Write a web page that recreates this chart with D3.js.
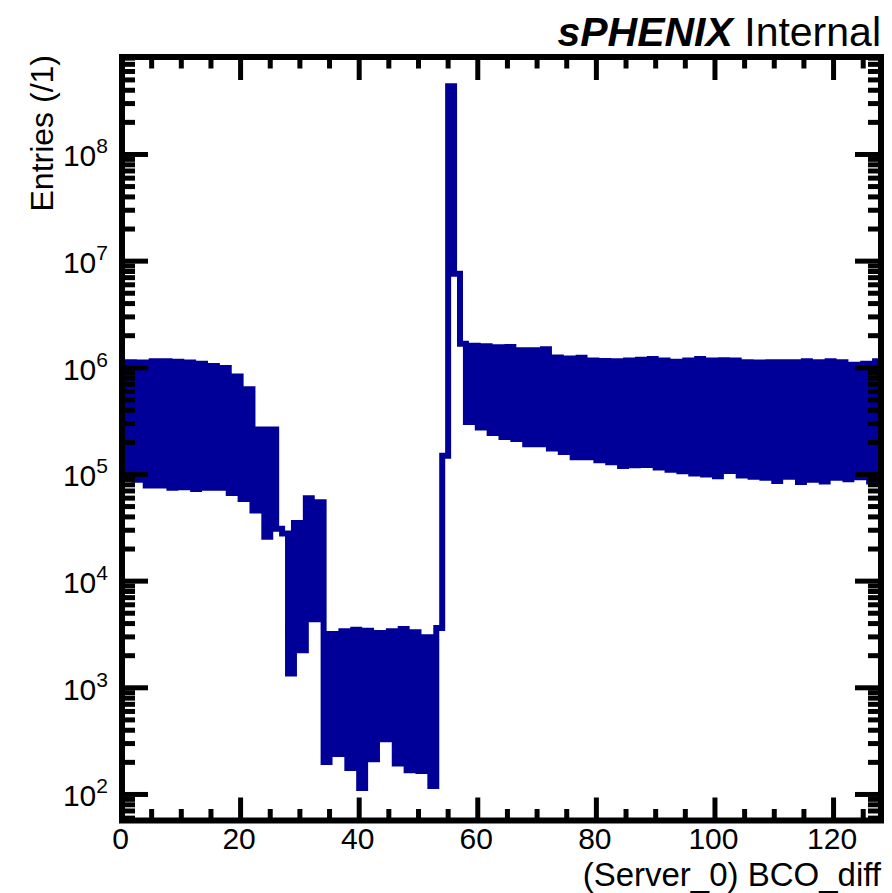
<!DOCTYPE html>
<html>
<head>
<meta charset="utf-8">
<script src="https://cdn.jsdelivr.net/npm/d3@7"></script>
<style>
  html, body { margin: 0; padding: 0; background: #ffffff; }
  svg { display: block; }
  text { font-family: "Liberation Sans", Arial, Helvetica, sans-serif; fill: #000; }
</style>
</head>
<body>
<svg id="chart" width="892" height="893"></svg>
<script>
// ---------------- data ----------------
const binCount = 128;
const xDomain = [0, 128];
const yDomain = [57, 8.2e8];

// entries per BCO_diff bin (bins 0..127)
const entries = [
  9.1e4, 1.13e6, 8.9e4, 1.12e6, 7.9e4, 1.15e6, 7.9e4, 1.15e6,
  7.5e4, 1.14e6, 7.6e4, 1.12e6, 7.3e4, 1.09e6, 7.5e4, 1.04e6,
  7.5e4, 9.96e5, 6.7e4, 8.3e5, 5.9e4, 6.3e5, 4.6e4, 2.64e5,
  2.6e4, 2.64e5, 3.1e4, 2.8e4, 1.36e3, 3.5e4, 2.25e3, 6.0e4,
  4.4e3, 5.5e4, 202, 3.2e3, 239, 3.39e3, 177, 3.51e3,
  115, 3.43e3, 214, 3.27e3, 330, 3.39e3, 195, 3.56e3,
  169, 3.32e3, 166, 2.98e3, 120, 3.64e3, 1.5e5, 4.35e8,
  7.6e6, 1.68e6, 3.10e5, 1.61e6, 2.75e5, 1.59e6, 2.45e5, 1.56e6,
  2.25e5, 1.57e6, 2.15e5, 1.46e6, 1.92e5, 1.46e6, 1.92e5, 1.49e6,
  1.75e5, 1.25e6, 1.62e5, 1.22e6, 1.45e5, 1.24e6, 1.45e5, 1.17e6,
  1.36e5, 1.16e6, 1.30e5, 1.15e6, 1.20e5, 1.17e6, 1.22e5, 1.19e6,
  1.23e5, 1.21e6, 1.16e5, 1.17e6, 1.11e5, 1.14e6, 1.07e5, 1.17e6,
  1.02e5, 1.21e6, 1.0e5, 1.17e6, 9.6e4, 1.18e6, 1.08e5, 1.17e6,
  9.8e4, 1.13e6, 9.5e4, 1.12e6, 9.3e4, 1.13e6, 8.7e4, 1.13e6,
  9.5e4, 1.13e6, 8.5e4, 1.15e6, 8.9e4, 1.13e6, 8.6e4, 1.15e6,
  9.3e4, 1.13e6, 9.0e4, 1.07e6, 9.4e4, 1.09e6, 8.6e4, 1.15e6
];

const xMajorTicks = [0, 20, 40, 60, 80, 100, 120];
const xTickLabels = ["0", "20", "40", "60", "80", "100", "120"];
const xMinorStep = 5;
const yMajorTicks = [1e2, 1e3, 1e4, 1e5, 1e6, 1e7, 1e8];
const yTickExponents = ["2", "3", "4", "5", "6", "7", "8"];

const xTitle = "(Server_0) BCO_diff";
const yTitle = "Entries (/1)";
const labelBold = "sPHENIX";
const labelRegular = " Internal";

// ---------------- layout ----------------
const frame = { left: 122, right: 881, top: 57, bottom: 820.5 };
const histColor = "#000099";

const svg = d3.select("#chart");

const x = d3.scaleLinear().domain(xDomain).range([frame.left, frame.right]);
const y = d3.scaleLog().domain(yDomain).range([frame.bottom, frame.top]);

// ---------------- histogram outline ----------------
const bins = d3.range(binCount);
let d = `M${x(0)},${frame.bottom}`;
bins.forEach(i => {
  d += `V${y(entries[i])}H${x(i + 1)}`;
});
d += `V${frame.bottom}`;

svg.append("path")
  .attr("d", d)
  .attr("fill", "none")
  .attr("stroke", histColor)
  .attr("stroke-width", 6)
  .attr("stroke-linejoin", "miter")
  .attr("stroke-linecap", "butt");

// ---------------- axes / ticks ----------------
const axes = svg.append("g").attr("stroke", "#000").attr("stroke-linecap", "butt");

// x ticks (bottom & top)
const xAll = d3.range(xDomain[0], xDomain[1] + 0.001, xMinorStep);
xAll.forEach(v => {
  const major = xMajorTicks.includes(v);
  const len = major ? 23 : 11.5;
  axes.append("line")
    .attr("x1", x(v)).attr("x2", x(v))
    .attr("y1", frame.bottom).attr("y2", frame.bottom - len)
    .attr("stroke-width", 5);
  axes.append("line")
    .attr("x1", x(v)).attr("x2", x(v))
    .attr("y1", frame.top).attr("y2", frame.top + len)
    .attr("stroke-width", 5);
});

// y ticks (left & right), log minor ticks
const yMinor = [];
for (let e = 1; e <= 8; e++) {
  for (let m = 2; m <= 9; m++) {
    const v = m * Math.pow(10, e);
    if (v >= yDomain[0] && v <= yDomain[1]) yMinor.push(v);
  }
}
function yTick(v, len) {
  axes.append("line")
    .attr("x1", frame.left).attr("x2", frame.left + len)
    .attr("y1", y(v)).attr("y2", y(v))
    .attr("stroke-width", 5);
  axes.append("line")
    .attr("x1", frame.right).attr("x2", frame.right - len)
    .attr("y1", y(v)).attr("y2", y(v))
    .attr("stroke-width", 5);
}
yMinor.forEach(v => yTick(v, 13));
yMajorTicks.forEach(v => yTick(v, 26));

// frame
svg.append("rect")
  .attr("x", frame.left).attr("y", frame.top)
  .attr("width", frame.right - frame.left)
  .attr("height", frame.bottom - frame.top)
  .attr("fill", "none")
  .attr("stroke", "#000")
  .attr("stroke-width", 6)
  .attr("stroke-linejoin", "miter");

// ---------------- labels ----------------
// x tick labels
xMajorTicks.forEach((v, i) => {
  svg.append("text")
    .attr("x", x(v) - 1.5)
    .attr("y", 849)
    .attr("text-anchor", "middle")
    .attr("font-size", 30)
    .text(xTickLabels[i]);
});

// y tick labels: 10^n
yMajorTicks.forEach((v, i) => {
  const t = svg.append("text")
    .attr("x", 108)
    .attr("y", y(v) + 12)
    .attr("text-anchor", "end")
    .attr("font-size", 30);
  t.append("tspan").text("10");
  t.append("tspan")
    .attr("font-size", 21)
    .attr("dy", -13)
    .text(yTickExponents[i]);
});

// axis titles
svg.append("text")
  .attr("x", 881)
  .attr("y", 886)
  .attr("text-anchor", "end")
  .attr("font-size", 33)
  .text(xTitle);

svg.append("text")
  .attr("transform", "translate(53,55) rotate(-90)")
  .attr("text-anchor", "end")
  .attr("font-size", 32)
  .text(yTitle);

// sPHENIX label
const lab = svg.append("text")
  .attr("x", 881)
  .attr("y", 46)
  .attr("text-anchor", "end")
  .attr("font-size", 41);
lab.append("tspan")
  .attr("font-weight", "bold")
  .attr("font-style", "italic")
  .text(labelBold);
lab.append("tspan").text(labelRegular);
</script>
</body>
</html>
